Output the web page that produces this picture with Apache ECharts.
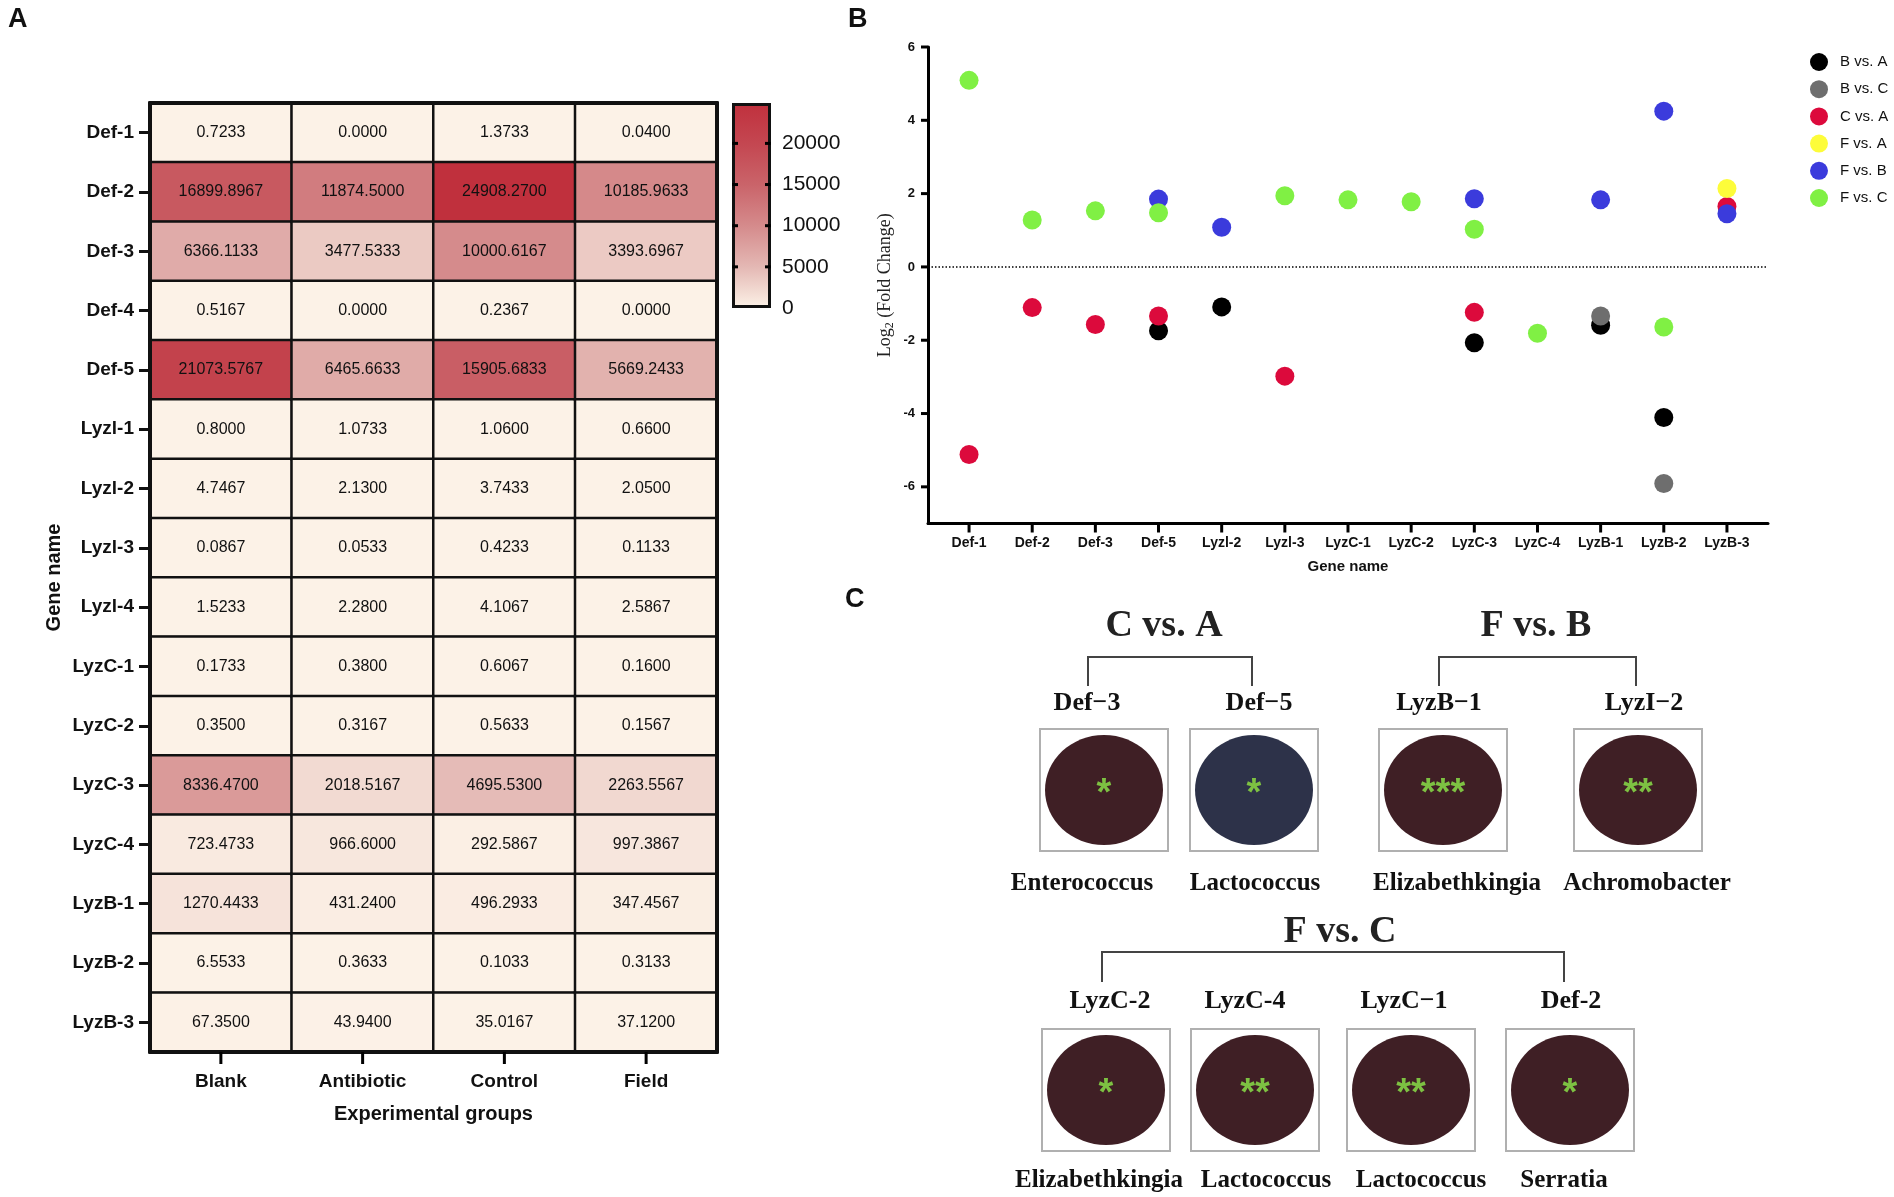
<!DOCTYPE html>
<html>
<head>
<meta charset="utf-8">
<script src="https://cdn.jsdelivr.net/npm/echarts@6/dist/echarts.min.js"></script>
<style>
  html, body { margin: 0; padding: 0; background: #fff; }
  #main { width: 1894px; height: 1197px; }
</style>
</head>
<body>
<div id="main"></div>
<script>
// panel A: gene expression heatmap
var groups = ['Blank', 'Antibiotic', 'Control', 'Field'];
var heatGenes = ['Def-1', 'Def-2', 'Def-3', 'Def-4', 'Def-5', 'Lyzl-1', 'Lyzl-2', 'Lyzl-3', 'Lyzl-4',
	'LyzC-1', 'LyzC-2', 'LyzC-3', 'LyzC-4', 'LyzB-1', 'LyzB-2', 'LyzB-3'];
var blankVals = [0.7233, 16899.8967, 6366.1133, 0.5167, 21073.5767, 0.8000, 4.7467, 0.0867, 1.5233,
	0.1733, 0.3500, 8336.4700, 723.4733, 1270.4433, 6.5533, 67.3500];
var antibioticVals = [0.0000, 11874.5000, 3477.5333, 0.0000, 6465.6633, 1.0733, 2.1300, 0.0533, 2.2800,
	0.3800, 0.3167, 2018.5167, 966.6000, 431.2400, 0.3633, 43.9400];
var controlVals = [1.3733, 24908.2700, 10000.6167, 0.2367, 15905.6833, 1.0600, 3.7433, 0.4233, 4.1067,
	0.6067, 0.5633, 4695.5300, 292.5867, 496.2933, 0.1033, 35.0167];
var fieldVals = [0.0400, 10185.9633, 3393.6967, 0.0000, 5669.2433, 0.6600, 2.0500, 0.1133, 2.5867,
	0.1600, 0.1567, 2263.5567, 997.3867, 347.4567, 0.3133, 37.1200];
var scaleTicks = [0, 5000, 10000, 15000, 20000];

// panel B: log2 fold change
var fcGenes = ['Def-1', 'Def-2', 'Def-3', 'Def-5', 'Lyzl-2', 'Lyzl-3', 'LyzC-1', 'LyzC-2', 'LyzC-3',
	'LyzC-4', 'LyzB-1', 'LyzB-2', 'LyzB-3'];
var compNames = ['B vs. A', 'B vs. C', 'C vs. A', 'F vs. A', 'F vs. B', 'F vs. C'];
var bVsA = [null, null, null, -1.74, -1.09, null, null, null, -2.07, null, -1.59, -4.11, null];
var bVsC = [null, null, null, null, null, null, null, null, null, null, -1.34, -5.91, null];
var cVsA = [-5.12, -1.11, -1.57, -1.34, null, -2.98, null, null, -1.24, null, null, null, 1.65];
var fVsA = [null, null, null, null, null, null, null, null, null, null, null, null, 2.14];
var fVsB = [null, null, null, 1.85, 1.08, null, null, null, 1.86, null, 1.83, 4.25, 1.45];
var fVsC = [5.09, 1.28, 1.53, 1.48, null, 1.94, 1.83, 1.78, 1.03, -1.81, null, -1.64, null];
var fcTicks = [-6, -4, -2, 0, 2, 4, 6];

// panel C: genes vs bacteria
var cTitles = ['C vs. A', 'F vs. B', 'F vs. C'];
var cGenes = [['Def\u22123', 'Def\u22125'], ['LyzB\u22121', 'LyzI\u22122'], ['LyzC-2', 'LyzC-4', 'LyzC\u22121', 'Def-2']];
var cBacteria = [['Enterococcus', 'Lactococcus'], ['Elizabethkingia', 'Achromobacter'],
	['Elizabethkingia', 'Lactococcus', 'Lactococcus', 'Serratia']];
var cStars = [[1, 1], [3, 2], [1, 2, 2, 1]];
var cFills = [['#3f1f25', '#2d3249'], ['#3f1f25', '#3f1f25'], ['#3f1f25', '#3f1f25', '#3f1f25', '#3f1f25']];

var heatColors = ['#fcf2e7', '#e4b8b4', '#d58b8c', '#ca646a', '#c44751', '#c0303d'];
var compColors = ['#000000', '#6e6e6e', '#dc0a3c', '#fdfc3a', '#3b3bdc', '#80f044'];

var chart = echarts.init(document.getElementById('main'));

var allCols = [blankVals, antibioticVals, controlVals, fieldVals];
var heatData = [];
var maxVal = 0;
allCols.forEach(function (col, i) {
	col.forEach(function (v, j) {
		heatData.push([i, j, v]);
		if (v > maxVal) maxVal = v;
	});
});
var lastRow = heatGenes.length - 1;
var barW = 39;

var compSets = [bVsA, bVsC, cVsA, fVsA, fVsB, fVsC];
var scatterSeries = compSets.map(function (arr, k) {
	var pts = [];
	arr.forEach(function (v, i) {
		if (v !== null) pts.push([i, v]);
	});
	var s = {
		name: compNames[k],
		type: 'scatter',
		xAxisIndex: 3,
		yAxisIndex: 4,
		symbol: 'circle',
		symbolSize: 19,
		itemStyle: { color: compColors[k], opacity: 1 },
		data: pts
	};
	if (k === 0) {
		s.markLine = {
			silent: true,
			symbol: ['none', 'none'],
			label: { show: false },
			lineStyle: { color: '#000', width: 1.5, type: [1.5, 2] },
			data: [{ yAxis: 0 }]
		};
	}
	return s;
});

// colorbar gradient, top = max
var barStops = heatColors.map(function (c, i) {
	return { offset: 1 - i / (heatColors.length - 1), color: c };
});

// panel C drawing
var boxW = 128, boxH = 122, rx = 59, ry = 55;
var serif = 'Liberation Serif, Times New Roman, serif';
var cRows = [
	{ titleY: 626, brY: 657, brY2: 686, geneY: 703, boxTop: 729, labY: 884 },
	{ titleY: 932, brY: 952, brY2: 982, geneY: 1001, boxTop: 1029, labY: 1181 }
];
var cLayout = [
	{ row: 0, titleX: 1164, br: [1088, 1252], boxX: [1104, 1254], geneX: [1087, 1259], labX: [1082, 1255] },
	{ row: 0, titleX: 1536, br: [1439, 1636], boxX: [1443, 1638], geneX: [1439, 1644], labX: [1457, 1647] },
	{ row: 1, titleX: 1340, br: [1102, 1564], boxX: [1106, 1255, 1411, 1570], geneX: [1110, 1245, 1404, 1571], labX: [1099, 1266, 1421, 1564] }
];
var gfx = [];
function txt(x, y, s, font, color, z) {
	gfx.push({ type: 'text', x: x, y: y, z: z || 100,
		style: { text: s, font: font, fill: color || '#111', textAlign: 'center', textVerticalAlign: 'middle' } });
}
cLayout.forEach(function (g, gi) {
	var r = cRows[g.row];
	txt(g.titleX, r.titleY, cTitles[gi], 'bold 38px ' + serif, '#222');
	gfx.push({ type: 'polyline', z: 100,
		shape: { points: [[g.br[0], r.brY2], [g.br[0], r.brY], [g.br[1], r.brY], [g.br[1], r.brY2]] },
		style: { stroke: '#444', lineWidth: 2, fill: null } });
	cGenes[gi].forEach(function (gn, k) {
		var cx = g.boxX[k];
		txt(g.geneX[k], r.geneY, gn, 'bold 26px ' + serif, '#111');
		gfx.push({ type: 'rect', z: 100,
			shape: { x: cx - boxW / 2, y: r.boxTop, width: boxW, height: boxH },
			style: { fill: '#fff', stroke: '#b0b0b0', lineWidth: 2 } });
		gfx.push({ type: 'ellipse', z: 101,
			shape: { cx: cx, cy: r.boxTop + boxH / 2, rx: rx, ry: ry },
			style: { fill: cFills[gi][k] } });
		txt(cx, r.boxTop + boxH / 2 + 5, new Array(cStars[gi][k] + 1).join('*'),
			'bold 38px Liberation Sans, Arial, sans-serif', '#7dc142', 102);
		txt(g.labX[k], r.labY, cBacteria[gi][k], 'bold 25px ' + serif, '#111');
	});
});
// panel letters
[['A', 8, 20], ['B', 848, 20], ['C', 845, 600]].forEach(function (l) {
	gfx.push({ type: 'text', x: l[1], y: l[2], z: 100,
		style: { text: l[0], font: 'bold 27px Liberation Sans, Arial, sans-serif', fill: '#111', textVerticalAlign: 'middle' } });
});

var option = {
	backgroundColor: '#fff',
	animation: false,
	textStyle: { fontFamily: 'Liberation Sans, Arial, sans-serif' },
	visualMap: {
		show: false,
		type: 'continuous',
		seriesIndex: 0,
		min: 0,
		max: maxVal,
		inRange: { color: heatColors }
	},
	legend: {
		data: compNames,
		orient: 'vertical',
		left: 1805,
		top: 48,
		itemWidth: 18,
		itemHeight: 18,
		itemGap: 9.2,
		icon: 'circle',
		textStyle: { fontSize: 15, color: '#111', padding: [0, 0, 0, 7] }
	},
	grid: [
		{ left: 150, top: 103, width: 567, height: 949 },
		{ left: 732, top: 103, width: barW, height: 205 },
		{ left: 928, top: 47, right: 126, bottom: 673.5 }
	],
	xAxis: [
		{
			type: 'category', gridIndex: 0, data: groups, z: 10,
			name: 'Experimental groups', nameLocation: 'middle', nameGap: 52,
			nameTextStyle: { fontSize: 20, fontWeight: 'bold', color: '#111' },
			axisLine: { show: true, lineStyle: { color: '#111', width: 4 } },
			axisTick: { show: false },
			axisLabel: { fontSize: 19, fontWeight: 'bold', color: '#111', margin: 20 },
			splitLine: { show: false }
		},
		{
			type: 'category', gridIndex: 0, data: groups, position: 'top', z: 10,
			axisLine: { show: true, lineStyle: { color: '#111', width: 4 } },
			axisTick: { show: false }, axisLabel: { show: false }
		},
		{
			type: 'category', gridIndex: 1, data: ['scale'], show: false
		},
		{
			type: 'value', gridIndex: 2, min: -0.65, max: 12.65,
			name: 'Gene name', nameLocation: 'middle', nameGap: 36,
			nameTextStyle: { fontSize: 15, fontWeight: 'bold', color: '#111' },
			axisLine: { show: true, onZero: false, lineStyle: { color: '#000', width: 3 } },
			axisTick: { show: false },
			axisLabel: {
				fontSize: 14, fontWeight: 'bold', color: '#111', margin: 13,
				customValues: fcGenes.map(function (g, i) { return i; }),
				formatter: function (v) { return fcGenes[Math.round(v)]; }
			},
			splitLine: { show: false }
		}
	],
	yAxis: [
		{
			type: 'category', gridIndex: 0, data: heatGenes, inverse: true, z: 10,
			name: 'Gene name', nameLocation: 'middle', nameGap: 86,
			nameTextStyle: { fontSize: 20, fontWeight: 'bold', color: '#111' },
			axisLine: { show: true, lineStyle: { color: '#111', width: 4 } },
			axisTick: { show: true, alignWithLabel: true, length: 11, lineStyle: { color: '#111', width: 3 } },
			axisLabel: { fontSize: 19, fontWeight: 'bold', color: '#111', margin: 16 },
			splitLine: { show: false }
		},
		{
			type: 'category', gridIndex: 0, data: heatGenes, inverse: true, position: 'right', z: 10,
			axisLine: { show: true, lineStyle: { color: '#111', width: 4 } },
			axisTick: { show: false }, axisLabel: { show: false }
		},
		{
			type: 'value', gridIndex: 1, min: 0, max: maxVal, position: 'left',
			axisLine: { show: false }, axisTick: { show: false }, axisLabel: { show: false },
			splitLine: { show: false }
		},
		{
			type: 'value', gridIndex: 1, min: 0, max: maxVal, position: 'right',
			axisLine: { show: false }, axisTick: { show: false },
			axisLabel: {
				fontSize: 21, color: '#111', margin: 11, customValues: scaleTicks,
				formatter: function (v) { return String(v); }
			},
			splitLine: { show: false }
		},
		{
			type: 'value', gridIndex: 2, min: -7, max: 6,
			name: '{a|Log}{s|2}{a| (Fold Change)}', nameLocation: 'middle', nameGap: 32,
			nameTextStyle: {
				color: '#222',
				rich: {
					a: { fontFamily: serif, fontSize: 18, color: '#222', lineHeight: 22 },
					s: { fontFamily: serif, fontSize: 12, color: '#222', verticalAlign: 'bottom', lineHeight: 12 }
				}
			},
			axisLine: { show: true, onZero: false, lineStyle: { color: '#000', width: 3 } },
			axisTick: { show: false },
			axisLabel: {
				fontSize: 13, fontWeight: 'bold', color: '#111', margin: 13, customValues: fcTicks,
				formatter: function (v) { return String(v); }
			},
			splitLine: { show: false }
		}
	],
	series: [
		{
			type: 'heatmap',
			xAxisIndex: 0,
			yAxisIndex: 0,
			data: heatData,
			itemStyle: { borderColor: '#111', borderWidth: 2.5 },
			label: {
				show: true,
				fontSize: 16,
				color: '#111',
				formatter: function (p) { return p.value[2].toFixed(4); }
			},
			emphasis: { disabled: true }
		},
		{
			type: 'bar',
			xAxisIndex: 2,
			yAxisIndex: 3,
			data: [maxVal],
			barWidth: '100%',
			itemStyle: {
				color: new echarts.graphic.LinearGradient(0, 0, 0, 1, barStops.slice().reverse()),
				borderColor: '#111',
				borderWidth: 3
			},
			silent: true
		}
	].concat(scatterSeries)
};

chart.setOption(option);

// tick marks: pixel spots taken from the axes with convertToPixel
var tickEls = [];
function tline(x1, y1, x2, y2) {
	tickEls.push({ type: 'line', z: 120, silent: true,
		shape: { x1: x1, y1: y1, x2: x2, y2: y2 }, style: { stroke: '#000', lineWidth: 3 } });
}
groups.forEach(function (g, i) {
	var p = chart.convertToPixel({ xAxisIndex: 0, yAxisIndex: 0 }, [i, lastRow]);
	var q = chart.convertToPixel({ xAxisIndex: 0, yAxisIndex: 0 }, [i, lastRow - 1]);
	var yb = p[1] + Math.abs(p[1] - q[1]) / 2;
	tline(p[0], yb, p[0], yb + 12);
});
scaleTicks.slice(1).forEach(function (v) {
	var p = chart.convertToPixel({ xAxisIndex: 2, yAxisIndex: 3 }, [0, v]);
	tline(p[0] - barW / 2, p[1], p[0] - barW / 2 + 6, p[1]);
	tline(p[0] + barW / 2, p[1], p[0] + barW / 2 - 6, p[1]);
});
fcGenes.forEach(function (g, i) {
	var p = chart.convertToPixel({ xAxisIndex: 3, yAxisIndex: 4 }, [i, -7]);
	tline(p[0], p[1], p[0], p[1] + 9);
});
fcTicks.forEach(function (v) {
	var p = chart.convertToPixel({ xAxisIndex: 3, yAxisIndex: 4 }, [-0.65, v]);
	tline(p[0], p[1], p[0] - 7, p[1]);
});

chart.setOption({ graphic: { elements: gfx.concat(tickEls) } });
</script>
</body>
</html>
